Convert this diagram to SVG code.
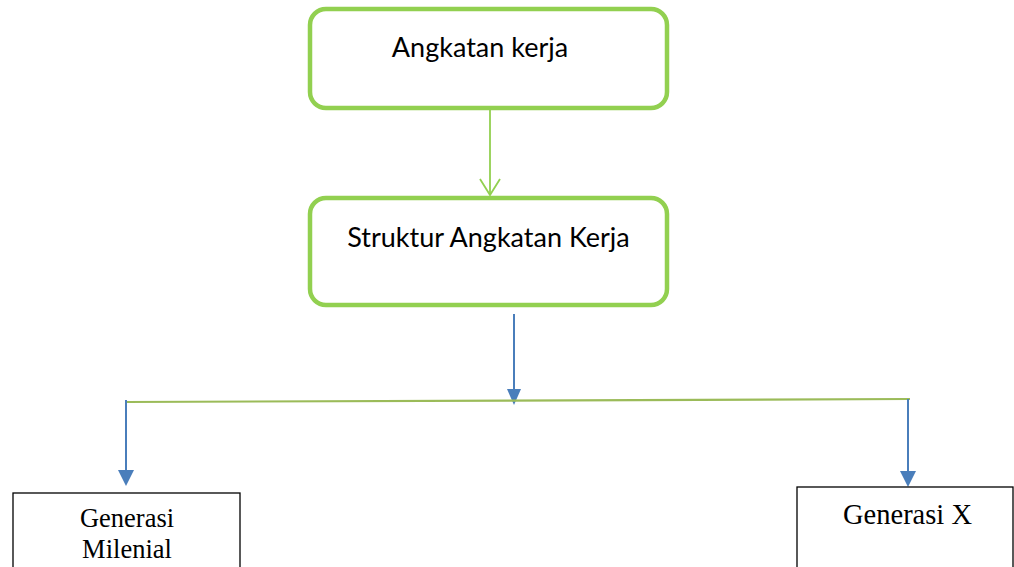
<svg xmlns="http://www.w3.org/2000/svg" width="1014" height="567" viewBox="0 0 1014 567">
<style>
.rbox{fill:#fff;stroke:#92D050;stroke-width:4.5}
.sbox{fill:#fff;stroke:#000;stroke-width:1.3}
.cal{font-family:Lato,"Open Sans",sans-serif;font-size:27px;fill:#000;text-anchor:middle}
.tnr{font-family:"Liberation Serif","Times New Roman",serif;font-size:26.5px;fill:#000;text-anchor:middle}
.blue{stroke:#4A7EBB;stroke-width:2;fill:none}
.head{fill:#4A7EBB}
</style>
<g id="connectors">
<line x1="490" y1="109" x2="490" y2="195" stroke="#92D050" stroke-width="1.8"/>
<polyline points="480,179 490,195 500,179" fill="none" stroke="#92D050" stroke-width="1.8"/>
<line x1="514" y1="314" x2="514" y2="390" class="blue"/>
<polygon points="507,389 521,389 514,405" class="head"/>
<line x1="126" y1="402" x2="910" y2="399" stroke="#9BBB59" stroke-width="2.2"/>
<line x1="126" y1="400" x2="126" y2="471" class="blue"/>
<polygon points="118,470 134,470 126,486" class="head"/>
<line x1="908" y1="399" x2="908" y2="472" class="blue"/>
<polygon points="900,471 916,471 908,487" class="head"/>
</g>
<g id="node-angkatan">
<rect x="310" y="9" width="357" height="99" rx="16" class="rbox"/>
<text x="480" y="57" class="cal">Angkatan kerja</text>
</g>
<g id="node-struktur">
<rect x="310" y="198" width="357" height="107" rx="16" class="rbox"/>
<text x="488.5" y="247" class="cal">Struktur Angkatan Kerja</text>
</g>
<g id="node-milenial">
<rect x="13" y="493" width="227" height="90" class="sbox"/>
<text x="127" y="527" class="tnr">Generasi</text>
<text x="127" y="558" class="tnr">Milenial</text>
</g>
<g id="node-x">
<rect x="797" y="487" width="216" height="96" class="sbox"/>
<text x="907.5" y="524" class="tnr" style="font-size:28.5px">Generasi X</text>
</g>
</svg>
